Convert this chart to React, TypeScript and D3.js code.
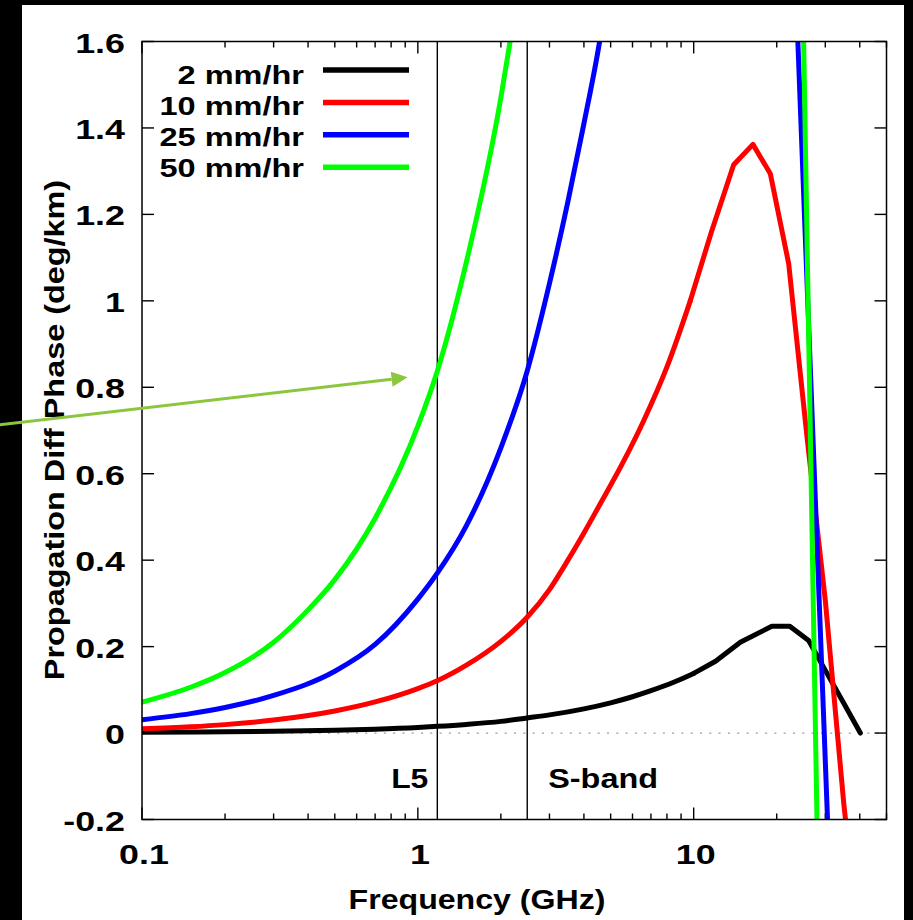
import React from 'react';
import * as d3 from 'd3';

// ---- data ----
const freq2mm = [0.1, 0.2, 0.3, 0.5, 0.7, 1.0, 1.176, 1.5, 2.0, 2.49, 3.0, 4.0, 5.0, 6.0, 7.0, 8.5, 10.0, 12.0, 14.76, 19.2, 22.3, 26.1, 30.0, 35.0, 40.2];
const phase2mm = [0.002, 0.003, 0.004, 0.0065, 0.009, 0.013, 0.0155, 0.02, 0.027, 0.035, 0.042, 0.056, 0.07, 0.084, 0.098, 0.118, 0.138, 0.166, 0.21, 0.247, 0.247, 0.214, 0.145, 0.069, 0.0];

const freq10mm = [0.1, 0.15, 0.2, 0.3, 0.5, 0.7, 1.0, 1.176, 1.5, 2.0, 2.49, 3.0, 3.5, 4.0, 4.58, 5.5, 6.58, 8.0, 9.72, 11.6, 13.96, 16.4, 18.96, 22.1, 25.7, 30.0, 35.0, 40.7];
const phase10mm = [0.01, 0.0145, 0.0195, 0.03, 0.051, 0.072, 0.103, 0.121, 0.157, 0.212, 0.268, 0.332, 0.4, 0.463, 0.53, 0.622, 0.722, 0.847, 1.0, 1.16, 1.315, 1.362, 1.294, 1.086, 0.69, 0.307, -0.163, -0.55];

const freq25mm = [0.1, 0.15, 0.2, 0.3, 0.5, 0.7, 1.0, 1.176, 1.5, 2.0, 2.49, 3.0, 3.5, 4.0, 4.56, 5.0, 23.37, 31.2];
const phase25mm = [0.031, 0.045, 0.059, 0.087, 0.143, 0.205, 0.31, 0.37, 0.48, 0.66, 0.837, 1.04, 1.23, 1.41, 1.6, 1.77, 1.75, -0.35];

const freq50mm = [0.1, 0.15, 0.2, 0.3, 0.4, 0.5, 0.7, 1.0, 1.176, 1.5, 2.0, 2.16, 2.5, 24.8, 28.25];
const phase50mm = [0.0715, 0.106, 0.14, 0.21, 0.285, 0.355, 0.497, 0.71, 0.837, 1.09, 1.47, 1.6, 1.87, 1.75, -0.35];

const seriesNames = ['2 mm/hr', '10 mm/hr', '25 mm/hr', '50 mm/hr'];
const seriesColors = ['#000000', '#ff0000', '#0000ff', '#00ff00'];
const seriesFreqs = [freq2mm, freq10mm, freq25mm, freq50mm];
const seriesPhases = [phase2mm, phase10mm, phase25mm, phase50mm];

const yTicks = [-0.2, 0, 0.2, 0.4, 0.6, 0.8, 1.0, 1.2, 1.4, 1.6];
const yTickLabels = ['-0.2', '0', '0.2', '0.4', '0.6', '0.8', '1', '1.2', '1.4', '1.6'];
const xMajorTicks = [0.1, 1, 10];
const xMajorLabels = ['0.1', '1', '10'];

const bandFreqs = [1.17645, 2.492028];
const bandLabels = ['L5', 'S-band'];

const arrowFrom = [0.0305, 0.713];
const arrowTo = [0.918, 0.823];

const xTitle = 'Frequency (GHz)';
const yTitle = 'Propagation Diff Phase (deg/km)';

// smooth (monotone) below this frequency, straight segments above
const smoothLimit = 10;

// ---- layout ----
const W = 913;
const H = 920;
const PL = 142, PR = 886.5, PT = 41.5, PB = 819.5;
const FONT = "'Liberation Sans', Arial, Helvetica, sans-serif";

function Txt({ x, y, anchor = 'start', size = 27, sx = 1.22, rotate = 0, children }: any) {
  const tr = `translate(${x},${y})` + (rotate ? ` rotate(${rotate})` : '') + ` scale(${sx},1)`;
  return (
    <text transform={tr} textAnchor={anchor} fontSize={size} fontWeight="bold" fontFamily={FONT} fill="#000">
      {children}
    </text>
  );
}

export default function App() {
  const x = d3.scaleLog().domain([0.1, 50]).range([PL, PR]);
  const y = d3.scaleLinear().domain([-0.2, 1.6]).range([PB, PT]);

  const minorTicks = x.ticks().filter((t) => !xMajorTicks.some((m) => Math.abs(m - t) < 1e-9));

  const smoothLine = d3
    .line<[number, number]>()
    .x((d) => x(d[0]))
    .y((d) => y(d[1]))
    .curve(d3.curveMonotoneX);
  const straightLine = d3
    .line<[number, number]>()
    .x((d) => x(d[0]))
    .y((d) => y(d[1]))
    .curve(d3.curveLinear);

  const ax = x(arrowFrom[0]);
  const ay = y(arrowFrom[1]);
  const bx = x(arrowTo[0]);
  const by = y(arrowTo[1]);
  const len = Math.hypot(bx - ax, by - ay);
  const ux = (bx - ax) / len;
  const uy = (by - ay) / len;
  const headL = 16;
  const headW = 7.5;
  const hx = bx - ux * headL;
  const hy = by - uy * headL;
  const head = `${bx},${by} ${hx - uy * headW},${hy + ux * headW} ${hx + uy * headW},${hy - ux * headW}`;

  return (
    <svg width={W} height={H} style={{ position: 'absolute', left: 0, top: 0, display: 'block' }}>
      <defs>
        <clipPath id="plotClip">
          <rect x={PL} y={PT} width={PR - PL} height={PB - PT} />
        </clipPath>
      </defs>
      <rect x={0} y={0} width={W} height={H} fill="#000" />
      <rect x={22} y={5} width={882} height={915} fill="#fff" />

      {/* zero line */}
      <line x1={PL} x2={PR} y1={y(0)} y2={y(0)} stroke="#9a9a9a" strokeWidth={1.3} strokeDasharray="2,7.3" />

      {/* band lines */}
      {bandFreqs.map((f, i) => (
        <line key={'b' + i} x1={x(f)} x2={x(f)} y1={PT} y2={PB} stroke="#000" strokeWidth={1.4} />
      ))}
      <Txt x={x(bandFreqs[0]) - 9} y={788} anchor="end" size={27} sx={1.18}>{bandLabels[0]}</Txt>
      <Txt x={x(bandFreqs[1]) + 21} y={788} anchor="start" size={27} sx={1.2}>{bandLabels[1]}</Txt>

      {/* ticks */}
      {yTicks.map((t, i) => (
        <g key={'yt' + i}>
          <line x1={PL} x2={PL + 12} y1={y(t)} y2={y(t)} stroke="#000" strokeWidth={1.4} />
          <line x1={PR} x2={PR - 12} y1={y(t)} y2={y(t)} stroke="#000" strokeWidth={1.4} />
          <Txt x={125} y={y(t) + 11} anchor="end" size={28} sx={1.28}>{yTickLabels[i]}</Txt>
        </g>
      ))}
      {xMajorTicks.map((t, i) => (
        <g key={'xt' + i}>
          <line x1={x(t)} x2={x(t)} y1={PB} y2={PB - 12} stroke="#000" strokeWidth={1.4} />
          <line x1={x(t)} x2={x(t)} y1={PT} y2={PT + 12} stroke="#000" strokeWidth={1.4} />
          <Txt x={x(t) + 2} y={864} anchor="middle" size={28} sx={1.28}>{xMajorLabels[i]}</Txt>
        </g>
      ))}
      {minorTicks.map((t, i) => (
        <g key={'mt' + i}>
          <line x1={x(t)} x2={x(t)} y1={PB} y2={PB - 6} stroke="#000" strokeWidth={1.4} />
          <line x1={x(t)} x2={x(t)} y1={PT} y2={PT + 6} stroke="#000" strokeWidth={1.4} />
        </g>
      ))}

      {/* data */}
      <g clipPath="url(#plotClip)">
        {seriesFreqs.map((fs, i) => {
          const pts = fs.map((f, j) => [f, seriesPhases[i][j]] as [number, number]);
          let k = 0;
          while (k < pts.length - 1 && pts[k + 1][0] <= smoothLimit) k++;
          const smoothPts = pts.slice(0, k + 1);
          const straightPts = pts.slice(k);
          return (
            <g key={'s' + i}>
              <path d={smoothLine(smoothPts) || ''} fill="none" stroke={seriesColors[i]} strokeWidth={5} strokeLinejoin="round" strokeLinecap="round" />
              <path d={straightLine(straightPts) || ''} fill="none" stroke={seriesColors[i]} strokeWidth={5} strokeLinejoin="round" strokeLinecap="round" />
            </g>
          );
        })}
      </g>

      {/* frame */}
      <rect x={PL} y={PT} width={PR - PL} height={PB - PT} fill="none" stroke="#000" strokeWidth={1.5} />

      {/* legend */}
      {seriesNames.map((n, i) => (
        <g key={'lg' + i}>
          <Txt x={304} y={83.5 + 31.2 * i} anchor="end" size={26} sx={1.25}>{n}</Txt>
          <line x1={323} x2={409} y1={70 + 32.4 * i} y2={70 + 32.4 * i} stroke={seriesColors[i]} strokeWidth={5.5} />
        </g>
      ))}

      {/* axis titles */}
      <Txt x={477} y={909} anchor="middle" size={27} sx={1.19}>{xTitle}</Txt>
      <Txt x={64} y={430} anchor="middle" size={27} sx={1.2} rotate={-90}>{yTitle}</Txt>

      {/* annotation arrow */}
      <line x1={ax} y1={ay} x2={hx} y2={hy} stroke="#8cc63f" strokeWidth={3} />
      <polygon points={head} fill="#8cc63f" />
    </svg>
  );
}
